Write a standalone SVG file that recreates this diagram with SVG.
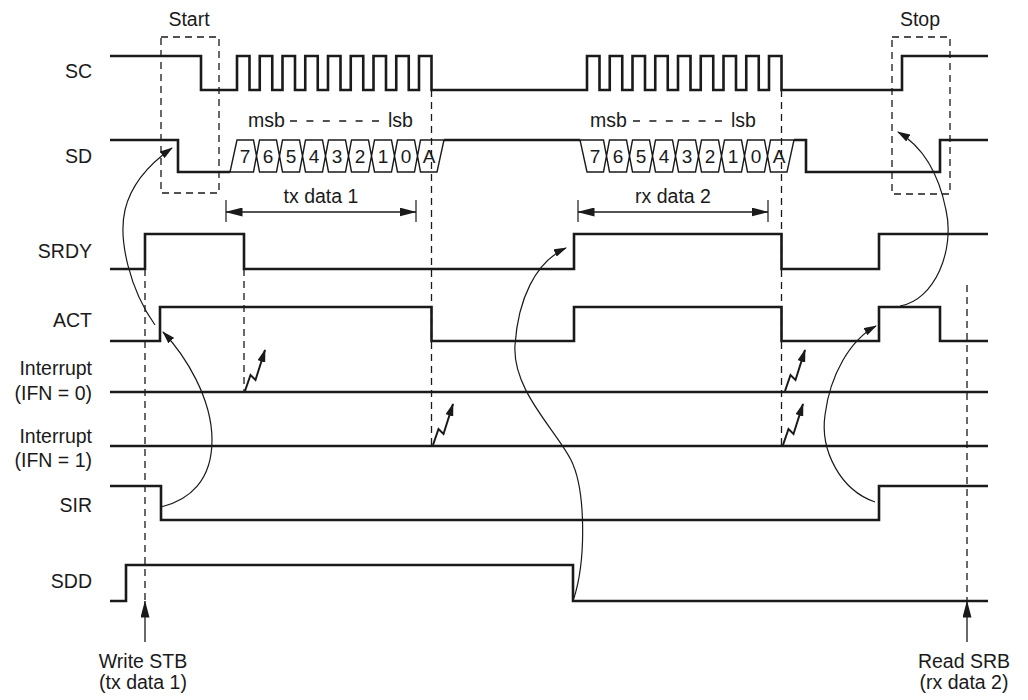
<svg xmlns="http://www.w3.org/2000/svg" width="1028" height="700" viewBox="0 0 1028 700">
<style>
text{font-family:"Liberation Sans",Arial,Helvetica,sans-serif;font-size:19.5px;fill:#1a1a1a}
.lbl{text-anchor:end}
.mid{text-anchor:middle}
.bit{font-size:19px;text-anchor:middle}
.sig{fill:none;stroke:#1a1a1a;stroke-width:2.6;stroke-linejoin:miter;stroke-linecap:butt}
.bus{fill:none;stroke:#1a1a1a;stroke-width:1.4;stroke-linejoin:miter}
.dash{fill:none;stroke:#1a1a1a;stroke-width:1.3;stroke-dasharray:7 5}
.sdash{fill:none;stroke:#1a1a1a;stroke-width:1.3;stroke-dasharray:7 9.4}
.curve{fill:none;stroke:#1a1a1a;stroke-width:1.2;marker-end:url(#ah)}
.dim{fill:none;stroke:#1a1a1a;stroke-width:1.3;marker-start:url(#dh);marker-end:url(#dh)}
.tick{fill:none;stroke:#1a1a1a;stroke-width:1.2}
.bolt{fill:none;stroke:#1a1a1a;stroke-width:2;stroke-linejoin:miter;marker-end:url(#bh)}
.up{fill:none;stroke:#1a1a1a;stroke-width:1.3;marker-end:url(#dh)}
</style>
<defs>
<marker id="ah" viewBox="0 0 13 8" refX="12" refY="4" markerWidth="13" markerHeight="8" markerUnits="userSpaceOnUse" orient="auto"><path d="M0,0L13,4L0,8z" fill="#1a1a1a"/></marker>
<marker id="dh" viewBox="0 0 17 9" refX="16.5" refY="4.5" markerWidth="17" markerHeight="9" markerUnits="userSpaceOnUse" orient="auto-start-reverse"><path d="M0,0L17,4.5L0,9z" fill="#1a1a1a"/></marker>
<marker id="bh" viewBox="0 0 13 8" refX="12" refY="4" markerWidth="13" markerHeight="8" markerUnits="userSpaceOnUse" orient="auto"><path d="M0,0L13,4L0,8z" fill="#1a1a1a"/></marker>
</defs>

<g id="labels">
<text class="lbl" x="92" y="78">SC</text>
<text class="lbl" x="92" y="163">SD</text>
<text class="lbl" x="92" y="258">SRDY</text>
<text class="lbl" x="92" y="327">ACT</text>
<text class="lbl" x="92" y="375">Interrupt</text>
<text class="lbl" x="92" y="400">(IFN = 0)</text>
<text class="lbl" x="92" y="443">Interrupt</text>
<text class="lbl" x="92" y="467">(IFN = 1)</text>
<text class="lbl" x="92" y="512">SIR</text>
<text class="lbl" x="92" y="588">SDD</text>
</g>

<g id="sc">
<path class="sig" d="M110,56H201V90H237V56H249.5V90H259.75V56H272.25V90H282.5V56H295V90H305.25V56H317.75V90H328V56H340.5V90H350.75V56H363.25V90H373.5V56H386V90H396.25V56H408.75V90H419V56H431.5V90H587V56H599.5V90H609.75V56H622.25V90H632.5V56H645V90H655.25V56H667.75V90H678V56H690.5V90H700.75V56H713.25V90H723.5V56H736V90H746.25V56H758.75V90H769V56H781.5V90H902V56H988"/>
</g>

<g id="sd">
<path class="sig" d="M110,140H178V172H230"/>
<path class="sig" d="M444,140H580"/>
<path class="sig" d="M794,140H806V172H940V140H988"/>
<path class="bus" d="M237,140H253.5L256.5,156L253.5,172H230Z
M259.5,140H276.5L279.5,156L276.5,172H259.5L256.5,156Z
M282.5,140H299.5L302.5,156L299.5,172H282.5L279.5,156Z
M305.5,140H322.5L325.5,156L322.5,172H305.5L302.5,156Z
M328.5,140H345.5L348.5,156L345.5,172H328.5L325.5,156Z
M351.5,140H368.5L371.5,156L368.5,172H351.5L348.5,156Z
M374.5,140H391.5L394.5,156L391.5,172H374.5L371.5,156Z
M397.5,140H414.5L417.5,156L414.5,172H397.5L394.5,156Z
M420.5,140H444L437,172H420.5L417.5,156Z"/>
<path class="bus" d="M580,140H603.5L606.5,156L603.5,172H587Z
M609.5,140H626.5L629.5,156L626.5,172H609.5L606.5,156Z
M632.5,140H649.5L652.5,156L649.5,172H632.5L629.5,156Z
M655.5,140H672.5L675.5,156L672.5,172H655.5L652.5,156Z
M678.5,140H695.5L698.5,156L695.5,172H678.5L675.5,156Z
M701.5,140H718.5L721.5,156L718.5,172H701.5L698.5,156Z
M724.5,140H741.5L744.5,156L741.5,172H724.5L721.5,156Z
M747.5,140H764.5L767.5,156L764.5,172H747.5L744.5,156Z
M770.5,140H794L787,172H770.5L767.5,156Z"/>
<g>
<text class="bit" x="245" y="163">7</text><text class="bit" x="268" y="163">6</text><text class="bit" x="291" y="163">5</text><text class="bit" x="314" y="163">4</text><text class="bit" x="337" y="163">3</text><text class="bit" x="360" y="163">2</text><text class="bit" x="383" y="163">1</text><text class="bit" x="406" y="163">0</text><text class="bit" x="429" y="163">A</text>
<text class="bit" x="595" y="163">7</text><text class="bit" x="618" y="163">6</text><text class="bit" x="641" y="163">5</text><text class="bit" x="664" y="163">4</text><text class="bit" x="687" y="163">3</text><text class="bit" x="710" y="163">2</text><text class="bit" x="733" y="163">1</text><text class="bit" x="756" y="163">0</text><text class="bit" x="779" y="163">A</text>
</g>
</g>

<g id="msblsb">
<text x="248" y="127">msb</text>
<path class="sdash" d="M290,121H380"/>
<text x="388" y="127">lsb</text>
<text x="590" y="127">msb</text>
<path class="sdash" d="M633,121H723"/>
<text x="731" y="127">lsb</text>
</g>

<g id="srdy"><path class="sig" d="M110,269H145V234H244V269H574V234H781.5V269H879V234H988"/></g>
<g id="act"><path class="sig" d="M110,341H160V307H431.5V341H574V307H781.5V341H879V307H940V341H988"/></g>
<g id="ifn0"><path class="sig" d="M110,392H988"/></g>
<g id="ifn1"><path class="sig" d="M110,446H988"/></g>
<g id="sir"><path class="sig" d="M110,486H161V520H879V486H988"/></g>
<g id="sdd"><path class="sig" d="M110,601H126V565H573V601H988"/></g>

<g id="boxes">
<rect class="dash" x="161" y="37" width="58" height="156"/>
<text class="mid" x="189" y="26">Start</text>
<rect class="dash" x="892" y="37" width="58" height="157"/>
<text class="mid" x="920" y="26">Stop</text>
</g>

<g id="dimensions">
<path class="tick" d="M226,200V222M416,200V222M578,200V222M768,200V222"/>
<path class="dim" d="M226,212H416"/>
<path class="dim" d="M578,212H768"/>
<text class="mid" x="321" y="203">tx data 1</text>
<text class="mid" x="673" y="203">rx data 2</text>
</g>

<g id="connectors">
<path class="dash" d="M145,269V601"/>
<path class="dash" d="M244,269V392"/>
<path class="dash" d="M431.5,90V446"/>
<path class="dash" d="M781.5,90V446"/>
<path class="dash" d="M967,285V601"/>
<path class="curve" d="M155,325C130,290 118,240 125,210C132,180 155,160 172,148"/>
<path class="curve" d="M161,507C190,500 212,480 212,440C212,398 185,355 163,332"/>
<path class="curve" d="M574,598C586,560 586,490 571,460C556,430 512,390 515,345C518,300 535,262 566,248"/>
<path class="curve" d="M875,502C840,490 820,450 825,415C830,375 850,340 876,326"/>
<path class="curve" d="M900,306C935,300 955,250 946,210C938,170 920,145 898,132"/>
<path class="bolt" d="M245,391L250.5,375L255.5,380L265,350"/>
<path class="bolt" d="M785,391L790.5,375L795.5,380L805,350"/>
<path class="bolt" d="M433,445L438.5,429L443.5,434L453,404"/>
<path class="bolt" d="M783,445L788.5,429L793.5,434L803,404"/>
<path class="up" d="M145,642V601"/>
<path class="up" d="M967,642V601"/>
</g>

<g id="bottom">
<text class="mid" x="143" y="668">Write STB</text>
<text class="mid" x="143" y="689">(tx data 1)</text>
<text class="mid" x="964" y="668">Read SRB</text>
<text class="mid" x="964" y="689">(rx data 2)</text>
</g>
</svg>
